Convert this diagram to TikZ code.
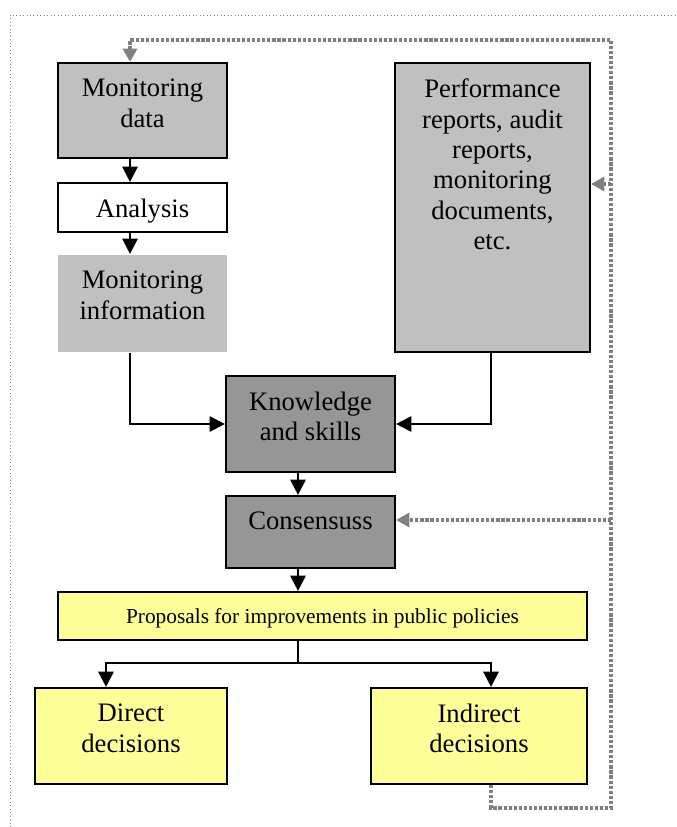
\documentclass[tikz,border=0pt]{standalone}
\usepackage{fontspec}
\setmainfont{Liberation Serif}
\usepackage{xcolor}
\usetikzlibrary{arrows.meta, positioning, calc}
\definecolor{lgray}{HTML}{C0C0C0}
\definecolor{mgray}{HTML}{969696}
\definecolor{lyellow}{HTML}{FFFF99}
\definecolor{fbgray}{HTML}{808080}

\begin{document}
\begin{tikzpicture}[
    x=0.75pt, y=-0.75pt,
    every node/.style={font=\fontsize{20}{22.8}\selectfont},
    blk/.style 2 args={rectangle, draw, line width=1.6pt, inner sep=0pt,
                minimum width=#1, minimum height=#2,
                execute at begin node={\begin{minipage}[c][#2][t]{#1}\centering\vspace*{12pt}},
                execute at end node={\end{minipage}}},
    src/.style={fill=lgray},
    mid/.style={fill=mgray},
    outb/.style={fill=lyellow},
    arr/.style={-{Triangle[length=11.5pt, width=11.5pt]}, line width=1.6pt},
    fb/.style={line width=2.4pt, fbgray, dash pattern=on 2.4pt off 1.4pt},
    fbarr/.style={fb, -{Triangle[length=10pt, width=10.5pt]}},
  ]
    \useasboundingbox (0, 0) rectangle (676, 827);
    \draw[fbgray, line width=0.6pt, dotted] (10, 827) -- (10, 15) -- (676, 15);
    % boxes
    \node[blk={126.75pt}{71.25pt}, src] (mdata) at (142.5, 110.5) {Monitoring\\data};
    \node[blk={126.75pt}{36.75pt}, fill=white] (anl) at (142.5, 207.5) {Analysis};
    \node[blk={126.75pt}{72.75pt}, src, draw=none] (minfo) at (142.5, 303.5) {Monitoring\\information};
    \node[blk={146.25pt}{216.75pt}, src] (perf) at (492.5, 207.5)
      {Performance\\reports, audit\\reports,\\monitoring\\documents,\\etc.};
    \node[blk={126.75pt}{72pt}, mid] (know) at (310.5, 424) {Knowledge\\and skills};
    \node[blk={126.75pt}{54pt}, mid] (cons) at (310.5, 532) {Consensuss};
    \node[blk={396.75pt}{36pt}, outb, font=\fontsize{16}{19}\selectfont] (prop) at (322.5, 616)
      {Proposals for improvements in public policies};
    \node[blk={144pt}{72pt}, outb] (dir) at (131, 736) {Direct\\decisions};
    \node[blk={162pt}{72pt}, outb] (indir) at (479, 736) {Indirect\\decisions};
    % connector columns
    \coordinate (colA) at (130, 0);
    \coordinate (colB) at (298, 0);
    \coordinate (colC) at (491, 0);
    \coordinate (colD) at (106, 0);
    \coordinate (split) at (298, 663);
    \coordinate (fbTop) at (611, 40);
    \coordinate (fbBot) at (611, 808);
    \coordinate (fbP) at (611, 184);
    \coordinate (fbC) at (611, 520);
    \draw[arr] (mdata.south -| colA) -- (anl.north -| colA);
    \draw[arr] (anl.south -| colA) -- (minfo.north -| colA);
    \draw[arr] (minfo.south -| colA) |- (know.west);
    \draw[arr] (perf.south -| colC) |- (know.east);
    \draw[arr] (know.south -| colB) -- (cons.north -| colB);
    \draw[arr] (cons.south -| colB) -- (prop.north -| colB);
    \draw[line width=1.6pt] (prop.south -| colB) -- (split);
    \draw[arr] (split) -| (dir.north -| colD);
    \draw[arr] (split) -| (indir.north -| colC);
    % feedback loop
    \draw[fbarr] (indir.south -| colC) |- (fbBot) -- (fbTop) -| (mdata.north -| colA);
    \draw[fbarr] (fbP) -- (fbP -| perf.east);
    \draw[fbarr] (fbC) -- (fbC -| cons.east);
  \end{tikzpicture}
\end{document}
